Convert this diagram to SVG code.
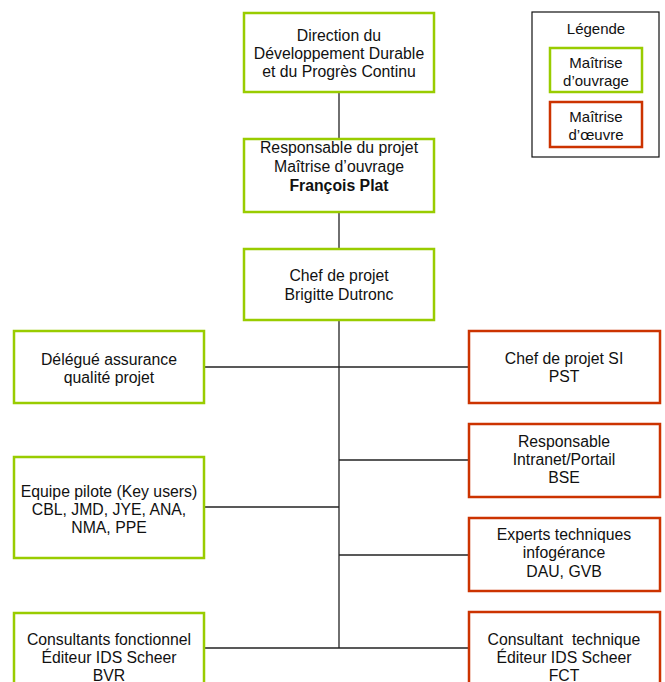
<svg xmlns="http://www.w3.org/2000/svg" width="665" height="682" viewBox="0 0 665 682">
<style>
text{font-family:"Liberation Sans",Arial,sans-serif;font-size:15.8px;fill:#111;text-anchor:middle}
.moa{fill:#fff;stroke:#99CC00;stroke-width:2.5}
.moe{fill:#fff;stroke:#CC3300;stroke-width:2.5}
.leg text{font-size:15px}
.c line{stroke:#222;stroke-width:1.3}
</style>
<rect width="665" height="682" fill="#fff"/>
<g class="c" id="connectors">
<line x1="339" y1="92" x2="339" y2="139"/>
<line x1="339" y1="212" x2="339" y2="249"/>
<line x1="339" y1="320" x2="339" y2="648"/>
<line x1="204" y1="367" x2="469" y2="367"/>
<line x1="339" y1="460" x2="469" y2="460"/>
<line x1="204" y1="507" x2="339" y2="507"/>
<line x1="339" y1="555" x2="469" y2="555"/>
<line x1="204" y1="648" x2="469" y2="648"/>
</g>
<g id="direction">
<rect class="moa" x="244" y="13" width="190" height="79"/>
<text x="339" y="41">Direction du</text>
<text x="339" y="59">Développement Durable</text>
<text x="339" y="77">et du Progrès Continu</text>
</g>
<g id="responsable">
<rect class="moa" x="244" y="139" width="190" height="73"/>
<text x="339" y="153">Responsable du projet</text>
<text x="339" y="172">Maîtrise d’ouvrage</text>
<text x="339" y="191" font-weight="bold">François Plat</text>
</g>
<g id="chef">
<rect class="moa" x="244" y="249" width="190" height="71"/>
<text x="339" y="281">Chef de projet</text>
<text x="339" y="300">Brigitte Dutronc</text>
</g>
<g id="delegue">
<rect class="moa" x="14" y="331" width="190" height="72"/>
<text x="109" y="365">Délégué assurance</text>
<text x="109" y="383">qualité projet</text>
</g>
<g id="equipe">
<rect class="moa" x="14" y="457" width="190" height="101"/>
<text x="109" y="497">Equipe pilote (Key users)</text>
<text x="109" y="515">CBL, JMD, JYE, ANA,</text>
<text x="109" y="533">NMA, PPE</text>
</g>
<g id="consultfonct">
<rect class="moa" x="14" y="613" width="190" height="80"/>
<text x="109" y="645">Consultants fonctionnel</text>
<text x="109" y="663">Éditeur IDS Scheer</text>
<text x="109" y="681">BVR</text>
</g>
<g id="chefsi">
<rect class="moe" x="469" y="331" width="191" height="72"/>
<text x="564" y="364">Chef de projet SI</text>
<text x="564" y="382">PST</text>
</g>
<g id="intranet">
<rect class="moe" x="469" y="424" width="191" height="73"/>
<text x="564" y="447">Responsable</text>
<text x="564" y="465">Intranet/Portail</text>
<text x="564" y="483">BSE</text>
</g>
<g id="experts">
<rect class="moe" x="469" y="518" width="191" height="73"/>
<text x="564" y="540">Experts techniques</text>
<text x="564" y="558">infogérance</text>
<text x="564" y="577">DAU, GVB</text>
</g>
<g id="consulttech">
<rect class="moe" x="469" y="612" width="191" height="80"/>
<text x="564" y="645" xml:space="preserve">Consultant  technique</text>
<text x="564" y="663">Éditeur IDS Scheer</text>
<text x="564" y="681">FCT</text>
</g>
<g id="legende" class="leg">
<rect x="532" y="12" width="127" height="145" fill="#fff" stroke="#111" stroke-width="1.2"/>
<text x="596" y="34">Légende</text>
<rect class="moa" x="550" y="48" width="92" height="44"/>
<text x="596" y="68">Maîtrise</text>
<text x="596" y="86">d’ouvrage</text>
<rect class="moe" x="550" y="102" width="92" height="45"/>
<text x="596" y="122">Maîtrise</text>
<text x="596" y="140">d’œuvre</text>
</g>
</svg>
